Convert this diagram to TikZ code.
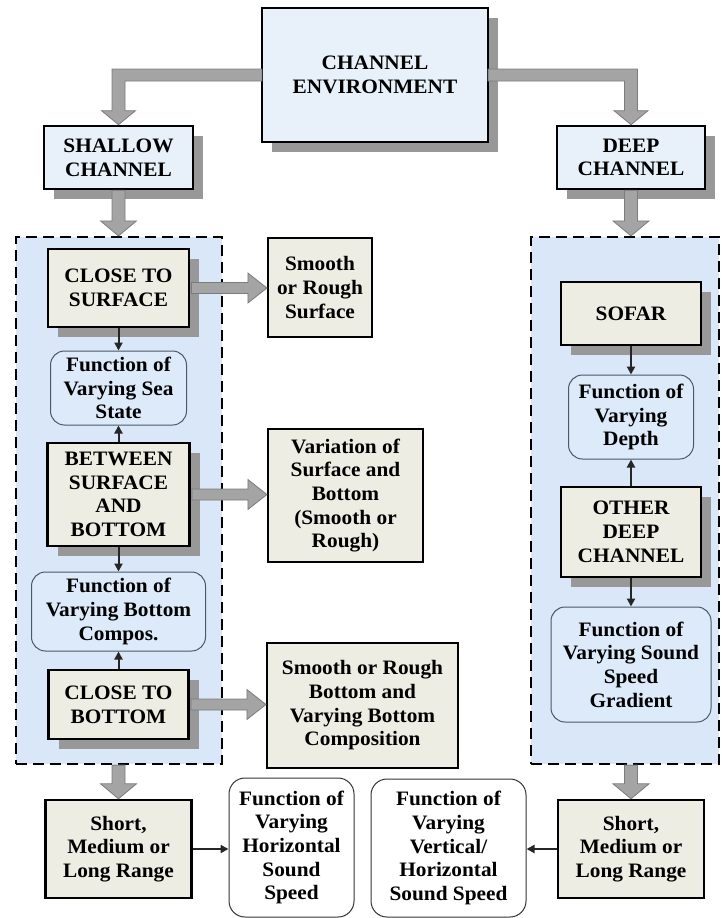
\documentclass[tikz,border=0pt]{standalone}
\usepackage{fontspec}
\setmainfont{Liberation Serif}[FakeStretch=1.04]
\usetikzlibrary{arrows.meta,calc,shadows}
\definecolor{blueboxc}{HTML}{E8F1FA}
\definecolor{beige}{HTML}{EEEDE3}
\definecolor{dashfill}{HTML}{D9E7F9}
\definecolor{fnfill}{HTML}{DDEAFA}
\definecolor{fnborder}{HTML}{4A5868}
\definecolor{arrfill}{HTML}{A4A4A4}
\definecolor{arrline}{HTML}{7C7C7C}
\definecolor{shadowgray}{HTML}{989898}
\newcommand\blkdown[2]{\filldraw[blockarrow] let \p1=(#1), \p2=(#2) in
  (\x1-6.5,\y1) -- (\x1-6.5,\y2+15) -- (\x1-18,\y2+15) -- (\x1,\y2) -- (\x1+18,\y2+15) -- (\x1+6.5,\y2+15) -- (\x1+6.5,\y1) -- cycle;}
\newcommand\blkright[2]{\filldraw[blockarrow] let \p1=(#1), \p2=(#2) in
  (\x1+1.2,\y1+5.5) -- (\x2-19,\y1+5.5) -- (\x2-19,\y1+15) -- (\x2,\y1) -- (\x2-19,\y1-15) -- (\x2-19,\y1-5.5) -- (\x1+1.2,\y1-5.5) -- cycle;}
\begin{document}
\begin{tikzpicture}[x=1pt,y=1pt,
  txt/.style={font=\bfseries\fontsize{20.5}{23.7}\selectfont, align=center, inner sep=2pt},
  shad/.style={drop shadow={shadow xshift=10pt, shadow yshift=-10pt, fill=shadowgray, opacity=1}},
  bluebox/.style={txt, draw=black, line width=2.6pt, fill=blueboxc, shad},
  beigebox/.style={txt, draw=black, line width=2.6pt, fill=beige},
  fnbox/.style={txt, draw=fnborder, line width=1pt, fill=fnfill, rounded corners=14pt},
  whitefn/.style={txt, draw=black!80, line width=1pt, fill=white, rounded corners=16pt},
  dashbox/.style={draw=black, line width=2.2pt, dash pattern=on 11pt off 6pt, fill=dashfill},
  blockarrow/.style={fill=arrfill, draw=arrline, line width=0.8pt},
  smallarrow/.style={line width=2pt, draw=black!85, -{Triangle[length=8pt,width=8pt]}}]
\useasboundingbox (0,0) rectangle (722,-918);
% dashed groups
\node[dashbox, minimum width=206pt, minimum height=527pt] (dashL) at (119,-500.5) {};
\node[dashbox, minimum width=188pt, minimum height=527pt] (dashR) at (625,-500.5) {};
% top
\node[bluebox, minimum width=226pt, minimum height=134pt] (ce) at (375,-75) {CHANNEL\\ENVIRONMENT};
\node[bluebox, minimum width=149pt, minimum height=63pt] (shallow) at (118.5,-157.5) {SHALLOW\\CHANNEL};
\node[bluebox, minimum width=148pt, minimum height=63pt] (deep) at (631,-157.5) {DEEP\\CHANNEL};
% left column
\node[beigebox, shad, minimum width=141pt, minimum height=78pt] (cts) at (118.5,-288) {CLOSE TO\\SURFACE};
\node[fnbox, minimum width=136pt, minimum height=74pt] (fnsea) at (118.5,-388) {Function of\\Varying Sea\\State};
\node[beigebox, shad, minimum width=142pt, minimum height=103pt] (between) at (118.5,-494.5) {BETWEEN\\SURFACE\\AND\\BOTTOM};
\node[fnbox, minimum width=174pt, minimum height=79pt] (fnbot) at (118.5,-611.5) {Function of\\Varying Bottom\\Compos.};
\node[beigebox, shad, minimum width=140pt, minimum height=69pt] (ctb) at (118.5,-704.5) {CLOSE TO\\BOTTOM};
% middle
\node[beigebox, line width=2.2pt, minimum width=104pt, minimum height=99pt] (smooths) at (320,-287.5) {Smooth\\or Rough\\Surface};
\node[beigebox, line width=2.2pt, minimum width=155pt, minimum height=133pt] (var) at (345.5,-495.5) {Variation of\\Surface and\\Bottom\\(Smooth or\\Rough)};
\node[beigebox, line width=2.2pt, minimum width=191pt, minimum height=125pt] (smoothb) at (362.5,-705.5) {Smooth or Rough\\Bottom and\\Varying Bottom\\Composition};
% right column
\node[beigebox, shad, minimum width=140pt, minimum height=63pt] (sofar) at (631,-313.5) {SOFAR};
\node[fnbox, minimum width=125pt, minimum height=84pt] (fndepth) at (631,-417) {Function of\\Varying\\Depth};
\node[beigebox, shad, minimum width=140pt, minimum height=90pt] (other) at (631,-532) {OTHER\\DEEP\\CHANNEL};
\node[fnbox, minimum width=160pt, minimum height=115pt] (fnssg) at (631,-664.5) {Function of\\Varying Sound\\Speed\\Gradient};
% bottom row
\node[beigebox, line width=2.4pt, minimum width=146pt, minimum height=98pt] (shortl) at (118.5,-849) {Short,\\Medium or\\Long Range};
\node[whitefn, minimum width=125pt, minimum height=139pt] (fnh) at (291.5,-847.5) {Function of\\Varying\\Horizontal\\Sound\\Speed};
\node[whitefn, minimum width=155pt, minimum height=138pt] (fnvh) at (448.5,-848) {Function of\\Varying\\Vertical/\\Horizontal\\Sound Speed};
\node[beigebox, line width=2.4pt, minimum width=146pt, minimum height=98pt] (shortr) at (631,-849) {Short,\\Medium or\\Long Range};
% block arrows from top box
\filldraw[blockarrow] let \p1=(ce.west), \p2=(shallow.north) in
  (\x1+1.2,\y1+6) -- (\x2-6.5,\y1+6) -- (\x2-6.5,\y2+14) -- (\x2-17,\y2+14) -- (\x2,\y2) -- (\x2+17,\y2+14) -- (\x2+6.5,\y2+14) -- (\x2+6.5,\y1-6) -- (\x1+1.2,\y1-6) -- cycle;
\filldraw[blockarrow] let \p1=(ce.east), \p2=(deep.north) in
  (\x1-1.2,\y1+6) -- (\x2+6.5,\y1+6) -- (\x2+6.5,\y2+14) -- (\x2+17,\y2+14) -- (\x2,\y2) -- (\x2-17,\y2+14) -- (\x2-6.5,\y2+14) -- (\x2-6.5,\y1-6) -- (\x1-1.2,\y1-6) -- cycle;
\blkdown{shallow.south}{dashL.north}
\blkdown{deep.south}{dashR.north}
\blkdown{dashL.south -| shortl.north}{shortl.north}
\blkdown{dashR.south -| shortr.north}{shortr.north}
\blkright{cts.east}{smooths.west}
\blkright{between.east}{var.west}
\blkright{ctb.east}{smoothb.west}
% small arrows
\draw[smallarrow] (cts.south) -- (cts.south |- fnsea.north);
\draw[smallarrow] (between.north) -- (between.north |- fnsea.south);
\draw[smallarrow] (between.south) -- (between.south |- fnbot.north);
\draw[smallarrow] (ctb.north) -- (ctb.north |- fnbot.south);
\draw[smallarrow] (sofar.south) -- (sofar.south |- fndepth.north);
\draw[smallarrow] (other.north) -- (other.north |- fndepth.south);
\draw[smallarrow] (other.south) -- (other.south |- fnssg.north);
\draw[smallarrow] (shortl.east) -- (shortl.east -| fnh.west);
\draw[smallarrow] (shortr.west) -- (shortr.west -| fnvh.east);
\end{tikzpicture}
\end{document}
